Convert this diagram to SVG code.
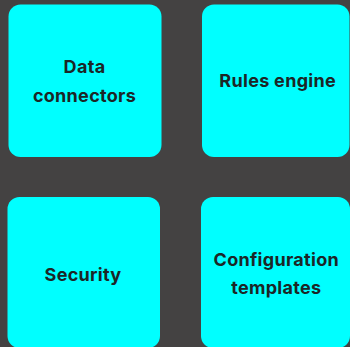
<svg xmlns="http://www.w3.org/2000/svg" width="350" height="347" viewBox="0 0 350 347">
<style>
.box{fill:#00ffff;}
.t{font-family:Inter,"Liberation Sans",sans-serif;font-weight:700;font-size:18px;letter-spacing:0.3px;fill:#1c2626;text-anchor:middle;}
</style>
<rect x="0" y="0" width="350" height="347" fill="#444242"/>
<g id="connectors"></g>
<g id="data-connectors">
<rect class="box" x="8.5" y="4.5" width="153" height="152.5" rx="12"/>
<text class="t" x="84.5" y="72.7">Data</text>
<text class="t" x="84.5" y="101.7">connectors</text>
</g>
<g id="rules-engine">
<rect class="box" x="202" y="4.5" width="147.5" height="152.5" rx="12"/>
<text class="t" x="277.7" y="87.3">Rules engine</text>
</g>
<g id="security">
<rect class="box" x="7.5" y="197" width="152.5" height="151" rx="12"/>
<text class="t" x="83" y="281">Security</text>
</g>
<g id="configuration-templates">
<rect class="box" x="201" y="197" width="149" height="151" rx="12"/>
<text class="t" x="276.3" y="265.7">Configuration</text>
<text class="t" x="276.3" y="294.3">templates</text>
</g>
</svg>
